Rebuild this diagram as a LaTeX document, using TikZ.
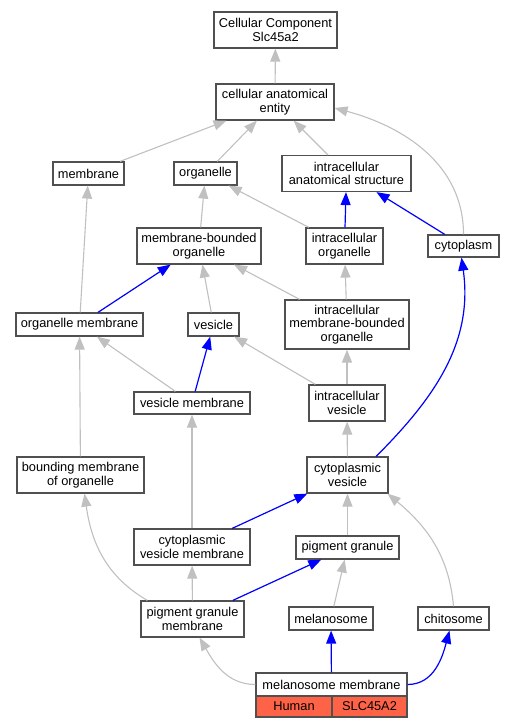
\documentclass[tikz,border=0pt]{standalone}
\usepackage{fontspec}
\setmainfont{Liberation Sans}
\usetikzlibrary{arrows.meta}

\definecolor{boxline}{HTML}{505050}
\definecolor{isagray}{HTML}{C0C0C0}
\definecolor{tomato}{HTML}{FF6347}

\tikzset{
  term/.style={draw=boxline, line width=1.2pt, fill=white, align=center,
    font=\fontsize{12.8}{13.4}\selectfont, inner sep=0pt, minimum height=23pt},
  two/.style={minimum height=36pt},
  isa/.style={draw=isagray, line width=1.1pt, -{Triangle[length=13pt,width=10pt]}},
  partof/.style={draw=blue, line width=1.2pt, -{Triangle[length=13pt,width=10pt]}},
}

\begin{document}
\begin{tikzpicture}[x=1pt,y=1pt]
  \useasboundingbox (0,0) rectangle (513,-728);

  % terms
  \node[term,two,minimum width=123pt] (cc) at (275.5,-30) {Cellular Component\\Slc45a2};
  \node[term,two,minimum width=118pt] (cae) at (275,-102) {cellular anatomical\\entity};
  \node[term,minimum width=71pt] (membrane) at (88.5,-173.5) {membrane};
  \node[term,minimum width=63pt] (organelle) at (205.5,-173.5) {organelle};
  \node[term,two,minimum width=129pt] (ias) at (346.5,-173.5) {intracellular\\anatomical structure};
  \node[term,two,minimum width=124pt] (mbo) at (199,-246) {membrane-bounded\\organelle};
  \node[term,two,minimum width=77pt] (io) at (344.5,-246) {intracellular\\organelle};
  \node[term,minimum width=71pt,minimum height=22pt] (cyto) at (463.5,-246) {cytoplasm};
  \node[term,minimum width=127pt] (om) at (79.5,-324.5) {organelle membrane};
  \node[term,minimum width=51pt] (vesicle) at (213.5,-324.5) {vesicle};
  \node[term,minimum width=124pt,minimum height=49pt] (imbo) at (347,-324.5) {intracellular\\membrane-bounded\\organelle};
  \node[term,minimum width=116pt,minimum height=22pt] (vm) at (192,-403) {vesicle membrane};
  \node[term,two,minimum width=76pt] (iv) at (347,-403) {intracellular\\vesicle};
  \node[term,two,minimum width=127pt] (bmo) at (80.5,-475) {bounding membrane\\of organelle};
  \node[term,two,minimum width=81pt] (cv) at (347.5,-475) {cytoplasmic\\vesicle};
  \node[term,two,minimum width=116pt] (cvm) at (192,-547) {cytoplasmic\\vesicle membrane};
  \node[term,minimum width=103pt] (pg) at (347.5,-547.5) {pigment granule};
  \node[term,two,minimum width=103pt] (pgm) at (192.5,-619) {pigment granule\\membrane};
  \node[term,minimum width=84pt] (melanosome) at (331,-618.5) {melanosome};
  \node[term,minimum width=71pt] (chitosome) at (453.5,-618.5) {chitosome};

  % annotated term
  \node[term,minimum width=151pt] (mm) at (331.5,-684.5) {melanosome membrane};
  \node[term,fill=tomato,minimum width=76pt,minimum height=21pt] (human) at (294,-706.5) {Human};
  \node[term,fill=tomato,minimum width=75pt,minimum height=21pt] (gene) at (369.5,-706.5) {SLC45A2};

  % is_a
  \draw[isa] (cae) -- (cc);
  \draw[isa] (membrane) -- (cae);
  \draw[isa] (organelle) -- (cae);
  \draw[isa] (ias) -- (cae);
  \draw[isa] (cyto.north) to[out=90,in=-15] ([yshift=-6pt]cae.east);
  \draw[isa] (mbo) -- (organelle);
  \draw[isa] (io) -- (organelle);
  \draw[isa] (om) -- (membrane);
  \draw[isa] (vesicle) -- (mbo);
  \draw[isa] (imbo) -- (mbo);
  \draw[isa] (imbo) -- (io);
  \draw[isa] (vm) -- (om);
  \draw[isa] (iv) -- (vesicle);
  \draw[isa] (iv) -- (imbo);
  \draw[isa] (bmo) -- (om);
  \draw[isa] (cv) -- (iv);
  \draw[isa] (cvm) -- (vm);
  \draw[isa] (pg) -- (cv);
  \draw[isa] ([xshift=7pt]pgm.north west) to[out=150,in=-82] ([xshift=4pt]bmo.south);
  \draw[isa] (pgm) -- (cvm);
  \draw[isa] (melanosome) -- (pg);
  \draw[isa] (chitosome.north) to[out=95,in=-40] ([xshift=-1pt]cv.south east);
  \draw[isa] (mm.west) to[out=180,in=-60] ([xshift=7pt]pgm.south);

  % part_of
  \draw[partof] (io) -- (ias);
  \draw[partof] (cyto) -- (ias);
  \draw[partof] (om) -- (mbo);
  \draw[partof] (vm) -- (vesicle);
  \draw[partof] (cv.33) to[out=45,in=-82] ([xshift=-2pt]cyto.south);
  \draw[partof] (cvm) -- (cv);
  \draw[partof] (pgm) -- (pg);
  \draw[partof] (mm) -- (melanosome);
  \draw[partof] (mm.east) to[out=0,in=-105] ([xshift=-4pt]chitosome.south);
\end{tikzpicture}
\end{document}
